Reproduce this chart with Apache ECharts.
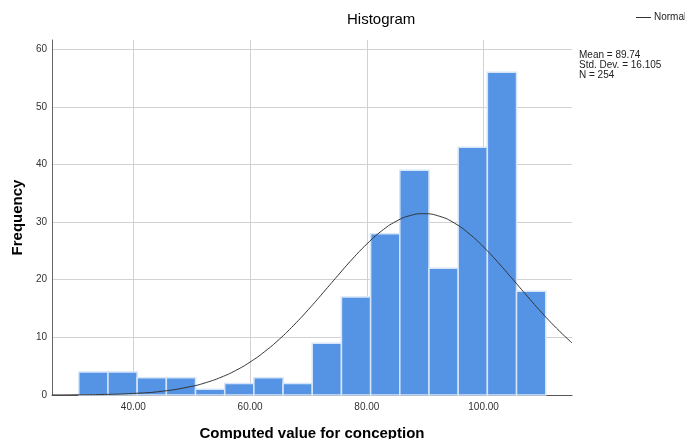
<!DOCTYPE html>
<html>
<head>
<meta charset="utf-8">
<script src="https://cdn.jsdelivr.net/npm/echarts@6/dist/echarts.min.js"></script>
<style>
  html, body { margin: 0; padding: 0; background: #fff; }
  #chart { width: 685px; height: 439px; }
</style>
</head>
<body>
<div id="chart"></div>
<script>
// histogram bins (left edge of each bin, width 5)
var binStarts = [30.65, 35.65, 40.65, 45.65, 50.65, 55.65, 60.65, 65.65, 70.65, 75.65, 80.65, 85.65, 90.65, 95.65, 100.65, 105.65];
var binWidth = 5;
var counts = [4, 4, 3, 3, 1, 2, 3, 2, 9, 17, 28, 39, 22, 43, 56, 18];

// normal curve
var curveX = [26.06, 30, 35, 40, 45, 50, 52.5, 55, 57.5, 60, 62.5, 65, 67.5, 70, 72.5, 75, 77.5, 80, 82.5, 85, 87.5, 89.74, 92.5, 95, 97.5, 100, 102.5, 105, 107.5, 110, 112.5, 115.15];
var curveY = [0.01, 0.03, 0.10, 0.27, 0.66, 1.50, 2.17, 3.07, 4.24, 5.72, 7.53, 9.67, 12.13, 14.84, 17.74, 20.69, 23.57, 26.20, 28.44, 30.13, 31.16, 31.46, 31.00, 29.83, 28.01, 25.68, 22.98, 20.08, 17.13, 14.26, 11.59, 9.03];

var stats = ["Mean = 89.74", "Std. Dev. = 16.105", "N = 254"];

var barData = [];
for (var i = 0; i < counts.length; i++) {
  barData.push([binStarts[i], binStarts[i] + binWidth, counts[i]]);
}
var lineData = [];
for (var j = 0; j < curveX.length; j++) {
  lineData.push([curveX[j], curveY[j]]);
}

var font = "Liberation Sans, Arial, sans-serif";
var myChart = echarts.init(document.getElementById("chart"));
var option = {
  backgroundColor: "#fff",
  animation: false,
  title: {
    text: "Histogram",
    left: 342,
    top: 7,
    textStyle: { color: "#000", fontSize: 15, fontWeight: "normal", fontFamily: font }
  },
  graphic: [
    {
      // legend entry for the normal curve
      type: "line",
      shape: { x1: 636, y1: 17.5, x2: 651, y2: 17.5 },
      style: { stroke: "#333", lineWidth: 1 }
    },
    {
      type: "text",
      left: 654,
      top: 12,
      style: { text: "Normal", fill: "#222", font: "10px " + font }
    },
    {
      type: "text",
      left: 579,
      top: 50,
      style: {
        text: stats.join("\n"),
        fill: "#222",
        font: "10px " + font,
        lineHeight: 10
      }
    }
  ],
  grid: { left: 52, right: 113, top: 40, bottom: 44, outerBoundsMode: "none", containLabel: false },
  xAxis: {
    type: "value",
    min: 26.06,
    max: 115.15,
    splitNumber: 5,
    minInterval: 20,
    maxInterval: 20,
    name: "Computed value for conception",
    nameLocation: "middle",
    nameGap: 31,
    nameTextStyle: { color: "#000", fontSize: 15, fontWeight: "bold", fontFamily: font },
    axisLine: { onZero: false, lineStyle: { color: "#555", width: 1 } },
    axisTick: { show: false },
    axisLabel: {
      color: "#333", fontSize: 10, fontFamily: font, margin: 7,
      showMinLabel: false, showMaxLabel: false,
      formatter: function (v) { return v.toFixed(2); }
    },
    splitLine: { show: true, showMinLine: false, showMaxLine: false, lineStyle: { color: "#d2d2d2", width: 1 } }
  },
  yAxis: {
    type: "value",
    min: 0,
    max: 61.6,
    interval: 10,
    name: "Frequency",
    nameLocation: "middle",
    nameGap: 27,
    nameTextStyle: { color: "#000", fontSize: 15, fontWeight: "bold", fontFamily: font },
    axisLine: { show: true, lineStyle: { color: "#666", width: 1 } },
    axisTick: { show: false },
    axisLabel: { color: "#333", fontSize: 10, fontFamily: font, margin: 5, showMaxLabel: false },
    splitLine: { show: true, showMinLine: false, showMaxLine: false, lineStyle: { color: "#d2d2d2", width: 1 } }
  },
  series: [
    {
      type: "custom",
      name: "Frequency",
      data: barData,
      encode: { x: [0, 1], y: 2 },
      renderItem: function (params, api) {
        var top = api.coord([api.value(0), api.value(2)]);
        var bottom = api.coord([api.value(1), 0]);
        return {
          type: "rect",
          shape: { x: top[0], y: top[1], width: bottom[0] - top[0], height: bottom[1] - top[1] },
          style: { fill: "#5594e4", stroke: "#d6e5f8", lineWidth: 1.5 }
        };
      },
      z: 2
    },
    {
      type: "line",
      name: "Normal",
      data: lineData,
      smooth: true,
      showSymbol: false,
      symbol: "none",
      lineStyle: { color: "#333", width: 1 },
      itemStyle: { color: "#333" },
      z: 3
    }
  ]
};
myChart.setOption(option);
</script>
</body>
</html>
